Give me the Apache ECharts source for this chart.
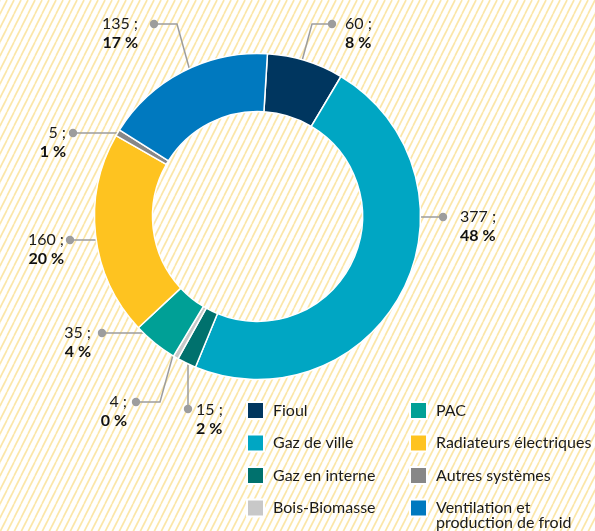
<!DOCTYPE html>
<html>
<head>
<meta charset="utf-8">
<script src="https://cdn.jsdelivr.net/npm/echarts@6/dist/echarts.min.js"></script>
<style>
  html, body { margin: 0; padding: 0; background: #fff; }
  #chart { width: 595px; height: 531px; }
</style>
</head>
<body>
<div id="chart"></div>
<script>
// données
var categories = ['Fioul', 'Gaz de ville', 'Gaz en interne', 'Bois-Biomasse', 'PAC',
  'Radiateurs électriques', 'Autres systèmes', 'Ventilation et production de froid']
var values = [60, 377, 15, 4, 35, 160, 5, 135]
var percents = [8, 48, 2, 0, 4, 20, 1, 17]
var colors = ['#00365f', '#00a6c3', '#00716d', '#c8c8c8', '#00a096', '#fec320', '#878787', '#0079bf']

// placement des étiquettes (ligne de rappel + texte)
var labelSpots = [
  { pts: [[299, 72], [312, 24], [332, 24]], x: 345, y: 24, align: 'left' },
  { pts: [[401, 217], [443, 217]], x: 460, y: 217, align: 'left' },
  { pts: [[188, 357], [188, 409]], x: 196, y: 410, align: 'left' },
  { pts: [[173, 355], [160, 402], [136, 402]], x: 127, y: 402, align: 'right' },
  { pts: [[157, 333], [102, 333]], x: 91, y: 333, align: 'right' },
  { pts: [[127, 240], [70, 240]], x: 64, y: 240, align: 'right' },
  { pts: [[118, 133], [73, 133]], x: 66, y: 133, align: 'right' },
  { pts: [[190, 71], [177, 24], [154, 24]], x: 138, y: 24, align: 'right' }
]

// fond hachuré
var tile = document.createElement('canvas')
tile.width = 7
tile.height = 14
var ctx = tile.getContext('2d')
ctx.fillStyle = '#ffffff'
ctx.fillRect(0, 0, 7, 14)
ctx.strokeStyle = '#fbe6a8'
ctx.lineWidth = 1.7
for (var k = -1; k <= 1; k++) {
  ctx.beginPath()
  ctx.moveTo(k * 7, 14)
  ctx.lineTo(k * 7 + 7, 0)
  ctx.stroke()
}

var pieData = categories.map(function (name, i) {
  return { name: name, value: values[i], itemStyle: { color: colors[i] } }
})

var dots = labelSpots.map(function (s) {
  var p = s.pts[s.pts.length - 1]
  return {
    type: 'circle',
    shape: { cx: p[0], cy: p[1], r: 4.2 },
    style: { fill: '#9d9d9d' },
    z: 10
  }
})

var legendBase = {
  orient: 'vertical',
  top: 401,
  height: 200,
  padding: 0,
  itemWidth: 17,
  itemHeight: 17,
  itemGap: 13.5,
  icon: 'rect',
  selectedMode: false,
  textStyle: { fontFamily: 'Lato', fontSize: 16, lineHeight: 15, color: '#1a1a1a', padding: [0, 0, 0, 4] }
}

var myChart = echarts.init(document.getElementById('chart'))
var option = {
  backgroundColor: { image: tile, repeat: 'repeat' },
  legend: [
    Object.assign({}, legendBase, {
      left: 246,
      data: categories.slice(0, 4)
    }),
    Object.assign({}, legendBase, {
      left: 409,
      data: categories.slice(4, 7)
    }),
    // libellé sur deux lignes : ligne vide en tête pour caler la première ligne sur le carré
    Object.assign({}, legendBase, {
      left: 409,
      top: 485,
      data: [categories[7]],
      formatter: function (name) {
        return '\n' + name.replace(' et ', ' et\n')
      }
    })
  ],
  graphic: dots,
  series: [
    {
      type: 'pie',
      center: [257.5, 216.5],
      radius: [105, 163],
      startAngle: 86.5,
      clockwise: true,
      avoidLabelOverlap: false,
      silent: true,
      itemStyle: { borderColor: '#ffffff', borderWidth: 1.5 },
      data: pieData,
      label: {
        show: true,
        position: 'outside',
        formatter: function (p) {
          return '{n|' + values[p.dataIndex] + ' ;}\n{b|' + percents[p.dataIndex] + ' %}'
        },
        rich: {
          n: { fontFamily: 'Lato', fontSize: 16, lineHeight: 19, color: '#1a1a1a' },
          b: { fontFamily: 'Lato', fontSize: 16, lineHeight: 19, fontWeight: 'bold', color: '#111' }
        }
      },
      labelLine: {
        show: true,
        lineStyle: { color: '#9d9d9d', width: 1.5 }
      },
      labelLayout: function (params) {
        var s = labelSpots[params.dataIndex]
        return {
          x: s.x,
          y: s.y - 9.5,
          align: s.align,
          verticalAlign: 'top',
          labelLinePoints: s.pts
        }
      }
    }
  ]
}
myChart.setOption(option)
</script>
</body>
</html>
